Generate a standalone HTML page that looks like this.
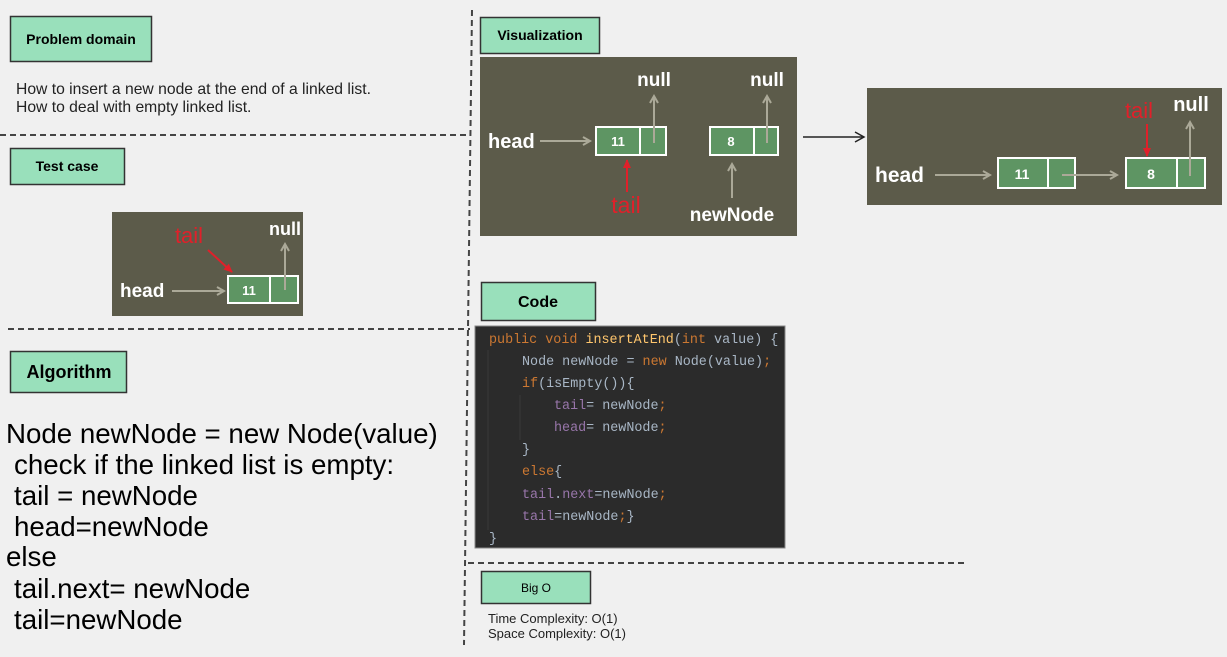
<!DOCTYPE html>
<html><head><meta charset="utf-8"><style>
html,body{margin:0;padding:0;background:#f0f0f0;width:1227px;height:657px;overflow:hidden}
svg{display:block}
text{font-family:"Liberation Sans",Arial,sans-serif}
text.m{font-family:"Liberation Mono","DejaVu Sans Mono",monospace;font-size:13.4px}
</style></head><body>
<svg width="1227" height="657" viewBox="0 0 1227 657" xmlns="http://www.w3.org/2000/svg">
<defs>
<marker id="ga" markerWidth="10" markerHeight="10" refX="8" refY="5" orient="auto" markerUnits="userSpaceOnUse"><path d="M1,1 L8,5 L1,9" fill="none" stroke="#aba998" stroke-width="2"/></marker>
<marker id="ra" markerWidth="10" markerHeight="10" refX="8" refY="5" orient="auto" markerUnits="userSpaceOnUse"><path d="M0,1 L9,5 L0,9 z" fill="#e0202a"/></marker>
<marker id="ka" markerWidth="12" markerHeight="12" refX="10" refY="6" orient="auto" markerUnits="userSpaceOnUse"><path d="M1,1 L10,6 L1,11" fill="none" stroke="#222" stroke-width="1.5"/></marker>
</defs>
<g stroke="#444" stroke-width="2" stroke-dasharray="6,4" fill="none">
<line x1="0" y1="135" x2="471" y2="135"/>
<line x1="8" y1="329" x2="470" y2="329"/>
<line x1="472" y1="10" x2="464" y2="645"/>
<line x1="468" y1="563" x2="968" y2="563"/>
</g>
<g fill="#99e0bb" stroke="#333" stroke-width="1.5">
<rect x="10.5" y="16.5" width="141" height="45"/>
<rect x="10.5" y="148.5" width="114" height="36"/>
<rect x="10.5" y="351.5" width="116" height="41"/>
<rect x="480.5" y="17.5" width="119" height="36"/>
<rect x="481.5" y="282.5" width="114" height="38"/>
<rect x="481.5" y="571.5" width="109" height="32"/>
</g>
<g font-weight="bold" fill="#000" text-anchor="middle">
<text x="81" y="44" font-size="14">Problem domain</text>
<text x="67" y="171" font-size="14">Test case</text>
<text x="69" y="378" font-size="18">Algorithm</text>
<text x="540" y="40" font-size="14">Visualization</text>
<text x="538" y="307" font-size="16">Code</text>
</g>
<text x="536" y="592" font-size="12" text-anchor="middle">Big O</text>
<text x="16" y="94" font-size="15.7" fill="#222">How to insert a new node at the end of a linked list.</text>
<text x="16" y="112" font-size="15.7" fill="#222">How to deal with empty linked list.</text>
<g font-size="27.7" fill="#000">
<text x="6" y="443">Node newNode = new Node(value)</text>
<text x="14" y="474">check if the linked list is empty:</text>
<text x="14" y="505">tail = newNode</text>
<text x="14" y="536">head=newNode</text>
<text x="6" y="566">else</text>
<text x="14" y="598">tail.next= newNode</text>
<text x="14" y="629">tail=newNode</text>
</g>
<text x="488" y="623" font-size="13" fill="#222">Time Complexity: O(1)</text>
<text x="488" y="638" font-size="13" fill="#222">Space Complexity: O(1)</text>

<rect x="112" y="212" width="191" height="104" fill="#5c5b4a"/>
<text x="120" y="297" font-size="19" font-weight="bold" fill="#fff">head</text>
<line x1="172" y1="291" x2="224" y2="291" stroke="#aba998" stroke-width="2" marker-end="url(#ga)"/>
<rect x="228" y="276" width="70" height="27" fill="#5e9563" stroke="#fff" stroke-width="2"/>
<line x1="270" y1="276" x2="270" y2="303" stroke="#fff" stroke-width="2"/>
<text x="249" y="295" font-size="13" font-weight="bold" fill="#fff" text-anchor="middle">11</text>
<line x1="285" y1="290" x2="285" y2="244" stroke="#aba998" stroke-width="2" marker-end="url(#ga)"/>
<text x="285" y="235" font-size="18" font-weight="bold" fill="#fff" text-anchor="middle">null</text>
<text x="189" y="243" font-size="22" fill="#e0202a" text-anchor="middle">tail</text>
<line x1="208" y1="250" x2="232" y2="272" stroke="#e0202a" stroke-width="2" marker-end="url(#ra)"/>

<rect x="480" y="57" width="317" height="179" fill="#5c5b4a"/>
<text x="488" y="148" font-size="20" font-weight="bold" fill="#fff">head</text>
<line x1="540" y1="141" x2="590" y2="141" stroke="#aba998" stroke-width="2" marker-end="url(#ga)"/>
<rect x="596" y="127" width="70" height="28" fill="#5e9563" stroke="#fff" stroke-width="2"/>
<line x1="640" y1="127" x2="640" y2="155" stroke="#fff" stroke-width="2"/>
<text x="618" y="146" font-size="13" font-weight="bold" fill="#fff" text-anchor="middle">11</text>
<line x1="654" y1="143" x2="654" y2="96" stroke="#aba998" stroke-width="2" marker-end="url(#ga)"/>
<text x="654" y="86" font-size="19" font-weight="bold" fill="#fff" text-anchor="middle">null</text>
<line x1="627" y1="192" x2="627" y2="160" stroke="#e0202a" stroke-width="2" marker-end="url(#ra)"/>
<text x="626" y="213" font-size="23" fill="#e0202a" text-anchor="middle">tail</text>
<rect x="710" y="127" width="68" height="28" fill="#5e9563" stroke="#fff" stroke-width="2"/>
<line x1="754" y1="127" x2="754" y2="155" stroke="#fff" stroke-width="2"/>
<text x="731" y="146" font-size="13" font-weight="bold" fill="#fff" text-anchor="middle">8</text>
<line x1="767" y1="143" x2="767" y2="96" stroke="#aba998" stroke-width="2" marker-end="url(#ga)"/>
<text x="767" y="86" font-size="19" font-weight="bold" fill="#fff" text-anchor="middle">null</text>
<line x1="732" y1="198" x2="732" y2="164" stroke="#aba998" stroke-width="2" marker-end="url(#ga)"/>
<text x="732" y="221" font-size="19" font-weight="bold" fill="#fff" text-anchor="middle">newNode</text>

<line x1="803" y1="137" x2="864" y2="137" stroke="#222" stroke-width="1.5" marker-end="url(#ka)"/>

<rect x="867" y="88" width="355" height="117" fill="#5c5b4a"/>
<text x="875" y="182" font-size="21" font-weight="bold" fill="#fff">head</text>
<line x1="935" y1="175" x2="990" y2="175" stroke="#aba998" stroke-width="2" marker-end="url(#ga)"/>
<rect x="998" y="158" width="77" height="30" fill="#5e9563" stroke="#fff" stroke-width="2"/>
<line x1="1048" y1="158" x2="1048" y2="188" stroke="#fff" stroke-width="2"/>
<text x="1022" y="179" font-size="14" font-weight="bold" fill="#fff" text-anchor="middle">11</text>
<line x1="1062" y1="175" x2="1117" y2="175" stroke="#aba998" stroke-width="2" marker-end="url(#ga)"/>
<rect x="1126" y="158" width="79" height="30" fill="#5e9563" stroke="#fff" stroke-width="2"/>
<line x1="1177" y1="158" x2="1177" y2="188" stroke="#fff" stroke-width="2"/>
<text x="1151" y="179" font-size="14" font-weight="bold" fill="#fff" text-anchor="middle">8</text>
<line x1="1190" y1="176" x2="1190" y2="122" stroke="#aba998" stroke-width="2" marker-end="url(#ga)"/>
<text x="1191" y="111" font-size="20" font-weight="bold" fill="#fff" text-anchor="middle">null</text>
<text x="1139" y="118" font-size="22" fill="#e0202a" text-anchor="middle">tail</text>
<line x1="1147" y1="124" x2="1147" y2="156" stroke="#e0202a" stroke-width="2" marker-end="url(#ra)"/>

<rect x="475" y="326" width="310" height="222" fill="#2b2b2b" stroke="#888" stroke-width="1"/>
<line x1="488" y1="350" x2="488" y2="530" stroke="#3a3a3a" stroke-width="1"/>
<line x1="520" y1="395" x2="520" y2="440" stroke="#3a3a3a" stroke-width="1"/>
<text class="m" x="489" y="343" xml:space="preserve"><tspan fill="#cc7832">public void </tspan><tspan fill="#ffc66d">insertAtEnd</tspan><tspan fill="#a9b7c6">(</tspan><tspan fill="#cc7832">int </tspan><tspan fill="#a9b7c6">value) {</tspan></text>
<text class="m" x="522" y="365" xml:space="preserve"><tspan fill="#a9b7c6">Node newNode = </tspan><tspan fill="#cc7832">new </tspan><tspan fill="#a9b7c6">Node(value)</tspan><tspan fill="#cc7832">;</tspan></text>
<text class="m" x="522" y="387"><tspan fill="#cc7832">if</tspan><tspan fill="#a9b7c6">(isEmpty()){</tspan></text>
<text class="m" x="554" y="409" xml:space="preserve"><tspan fill="#9876aa">tail</tspan><tspan fill="#a9b7c6">= newNode</tspan><tspan fill="#cc7832">;</tspan></text>
<text class="m" x="554" y="431" xml:space="preserve"><tspan fill="#9876aa">head</tspan><tspan fill="#a9b7c6">= newNode</tspan><tspan fill="#cc7832">;</tspan></text>
<text class="m" x="522" y="453" fill="#a9b7c6">}</text>
<text class="m" x="522" y="475"><tspan fill="#cc7832">else</tspan><tspan fill="#a9b7c6">{</tspan></text>
<text class="m" x="522" y="498"><tspan fill="#9876aa">tail</tspan><tspan fill="#a9b7c6">.</tspan><tspan fill="#9876aa">next</tspan><tspan fill="#a9b7c6">=newNode</tspan><tspan fill="#cc7832">;</tspan></text>
<text class="m" x="522" y="520"><tspan fill="#9876aa">tail</tspan><tspan fill="#a9b7c6">=newNode</tspan><tspan fill="#cc7832">;</tspan><tspan fill="#a9b7c6">}</tspan></text>
<text class="m" x="489" y="542" fill="#a9b7c6">}</text>
</svg>
</body></html>
